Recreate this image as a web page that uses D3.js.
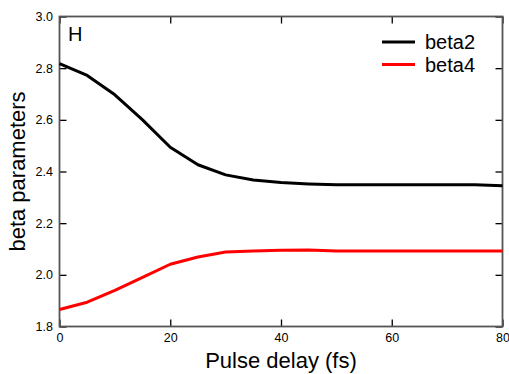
<!DOCTYPE html>
<html>
<head>
<meta charset="utf-8">
<script src="https://d3js.org/d3.v7.min.js"></script>
<style>
  body { margin: 0; background: #fff; }
  svg { display: block; font-family: "Liberation Sans", Arial, sans-serif; }
</style>
</head>
<body>
<div id="chart"></div>
<script>
// Data
const delays = [0, 5, 10, 15, 20, 25, 30, 35, 40, 45, 50, 55, 60, 65, 70, 75, 80];
const beta2 = [2.818, 2.772, 2.697, 2.600, 2.494, 2.426, 2.387, 2.367, 2.357, 2.352, 2.349, 2.349, 2.349, 2.349, 2.349, 2.349, 2.345];
const beta4 = [1.866, 1.894, 1.940, 1.990, 2.041, 2.069, 2.088, 2.092, 2.095, 2.096, 2.092, 2.092, 2.092, 2.092, 2.092, 2.092, 2.092];
const xTicks = [0, 20, 40, 60, 80];
const yTicks = [1.8, 2.0, 2.2, 2.4, 2.6, 2.8, 3.0];
const seriesNames = ["beta2", "beta4"];
const seriesColors = ["#000000", "#ff0000"];

const width = 509, height = 374;
const margin = { top: 16.5, right: 6.5, bottom: 47.5, left: 59.5 };

const svg = d3.select("#chart").append("svg")
  .attr("width", width)
  .attr("height", height);

const x = d3.scaleLinear().domain([0, 80]).range([margin.left, width - margin.right]);
const y = d3.scaleLinear().domain([1.8, 3.0]).range([height - margin.bottom, margin.top]);

const tickLen = 7;
const frameColor = "#555";

// Bottom axis (ticks inward)
svg.append("g")
  .attr("transform", `translate(0,${y(1.8)})`)
  .call(d3.axisBottom(x).tickValues(xTicks).tickSizeInner(-tickLen).tickSizeOuter(0).tickPadding(6.5).tickFormat(d3.format("d")))
  .call(g => g.select(".domain").remove())
  .call(g => g.selectAll("line").attr("stroke", "#000").attr("stroke-width", 1.3))
  .call(g => g.selectAll("text").attr("font-size", 12.5).attr("fill", "#000"));

// Left axis
svg.append("g")
  .attr("transform", `translate(${x(0)},0)`)
  .call(d3.axisLeft(y).tickValues(yTicks).tickSizeInner(-tickLen).tickSizeOuter(0).tickPadding(6.5).tickFormat(d3.format(".1f")))
  .call(g => g.select(".domain").remove())
  .call(g => g.selectAll("line").attr("stroke", "#000").attr("stroke-width", 1.3))
  .call(g => g.selectAll("text").attr("font-size", 12.5).attr("fill", "#000"));

// Top and right ticks
svg.append("g")
  .attr("transform", `translate(0,${y(3.0)})`)
  .call(d3.axisTop(x).tickValues(xTicks).tickSizeInner(-tickLen).tickSizeOuter(0).tickFormat(""))
  .call(g => g.select(".domain").remove())
  .call(g => g.selectAll("line").attr("stroke", "#000").attr("stroke-width", 1.3));

svg.append("g")
  .attr("transform", `translate(${x(80)},0)`)
  .call(d3.axisRight(y).tickValues(yTicks).tickSizeInner(-tickLen).tickSizeOuter(0).tickFormat(""))
  .call(g => g.select(".domain").remove())
  .call(g => g.selectAll("line").attr("stroke", "#000").attr("stroke-width", 1.3));

// Frame
svg.append("rect")
  .attr("x", x(0)).attr("y", y(3.0))
  .attr("width", x(80) - x(0)).attr("height", y(1.8) - y(3.0))
  .attr("fill", "none")
  .attr("stroke", frameColor)
  .attr("stroke-width", 1.8);

// Lines
const line = d3.line()
  .x((d, i) => x(delays[i]))
  .y(d => y(d));

[beta2, beta4].forEach((vals, i) => {
  svg.append("path")
    .datum(vals)
    .attr("fill", "none")
    .attr("stroke", seriesColors[i])
    .attr("stroke-width", 3)
    .attr("stroke-linejoin", "round")
    .attr("d", line);
});

// Legend
const legend = svg.append("g");
seriesNames.forEach((name, i) => {
  const ly = 42 + i * 22.5;
  legend.append("line")
    .attr("x1", 382).attr("x2", 415)
    .attr("y1", ly).attr("y2", ly)
    .attr("stroke", seriesColors[i])
    .attr("stroke-width", 3);
  legend.append("text")
    .attr("x", 425).attr("y", ly + 7)
    .attr("font-size", 20)
    .attr("fill", "#000")
    .text(name);
});

// Panel letter
svg.append("text")
  .attr("x", 68).attr("y", 41)
  .attr("font-size", 20)
  .attr("fill", "#000")
  .text("H");

// Axis titles
svg.append("text")
  .attr("x", (x(0) + x(80)) / 2)
  .attr("y", 368)
  .attr("text-anchor", "middle")
  .attr("font-size", 22)
  .attr("fill", "#000")
  .text("Pulse delay (fs)");

svg.append("text")
  .attr("transform", `translate(25,${(y(1.8) + y(3.0)) / 2}) rotate(-90)`)
  .attr("text-anchor", "middle")
  .attr("font-size", 22)
  .attr("fill", "#000")
  .text("beta parameters");
</script>
</body>
</html>
